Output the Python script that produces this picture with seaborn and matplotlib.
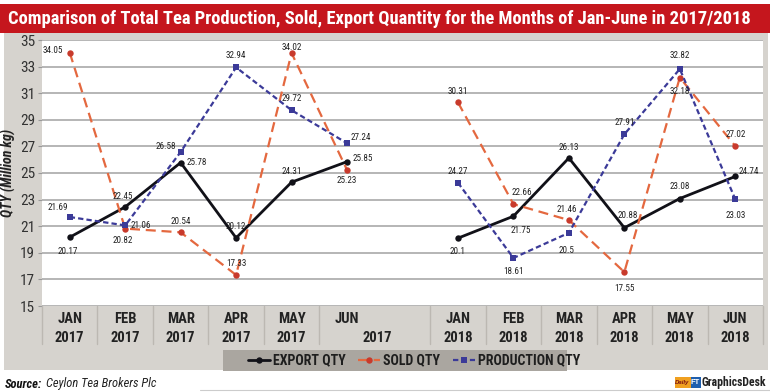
import numpy as np
import pandas as pd
import matplotlib
matplotlib.use("Agg")
import matplotlib.pyplot as plt
import seaborn as sns
from matplotlib.patches import Rectangle
from matplotlib.lines import Line2D
import matplotlib.transforms as mtransforms
from matplotlib import font_manager

# ---------------- data ----------------
months = ["JAN", "FEB", "MAR", "APR", "MAY", "JUN"]
years = ["2017", "2018"]
series_names = ["EXPORT QTY", "SOLD QTY", "PRODUCTION QTY"]

export_2017 = [20.17, 22.45, 25.78, 20.12, 24.31, 25.85]
sold_2017 = [34.05, 20.82, 20.54, 17.33, 34.02, 25.23]
production_2017 = [21.69, 21.06, 26.58, 32.94, 29.72, 27.24]

export_2018 = [20.1, 21.75, 26.13, 20.88, 23.08, 24.74]
sold_2018 = [30.31, 22.66, 21.46, 17.55, 32.18, 27.02]
production_2018 = [24.27, 18.61, 20.5, 27.91, 32.82, 23.03]

y_ticks = list(range(15, 36, 2))

title = "Comparison of Total Tea Production, Sold, Export Quantity for the Months of Jan-June in 2017/2018"
y_label = "QTY (Million kg)"
source_bold = "Source:"
source_text = "Ceylon Tea Brokers Plc"

# ---------------- build long table ----------------
values = {
    ("2017", "EXPORT QTY"): export_2017,
    ("2017", "SOLD QTY"): sold_2017,
    ("2017", "PRODUCTION QTY"): production_2017,
    ("2018", "EXPORT QTY"): export_2018,
    ("2018", "SOLD QTY"): sold_2018,
    ("2018", "PRODUCTION QTY"): production_2018,
}
year_offset = {"2017": 0, "2018": len(months) + 1}
rows = []
for (yr, s), vals in values.items():
    for i, v in enumerate(vals):
        rows.append({"pos": i + year_offset[yr], "value": v, "series": s, "year": yr})
df = pd.DataFrame(rows)

# ---------------- fonts ----------------
available = {f.name for f in font_manager.fontManager.ttflist}
cands = ["Liberation Sans Narrow", "DejaVu Sans Condensed", "Roboto Condensed",
         "Open Sans Condensed", "Liberation Sans", "DejaVu Sans"]
narrow_name = next(c for c in cands if c in available)
NARROW = [narrow_name, "DejaVu Sans"]

sns.set_theme(style="white")
plt.rcParams["font.family"] = ["Liberation Sans", "DejaVu Sans"]

palette = {"EXPORT QTY": "#111118", "SOLD QTY": "#e4683f", "PRODUCTION QTY": "#3b3a98"}
marker_col = {"EXPORT QTY": "#111118", "SOLD QTY": "#c83a2c", "PRODUCTION QTY": "#3b3a98"}
dashes = {"EXPORT QTY": "", "SOLD QTY": (4.5, 2.6), "PRODUCTION QTY": (2.4, 1.4)}
markers = {"EXPORT QTY": "o", "SOLD QTY": "o", "PRODUCTION QTY": "s"}
widths = {"EXPORT QTY": 2.0, "SOLD QTY": 1.6, "PRODUCTION QTY": 1.6}

W, H = 770, 392
fig = plt.figure(figsize=(W / 100, H / 100), dpi=100)
fig.patch.set_facecolor("white")
renderer = fig.canvas.get_renderer()

def fx(px):
    return px / W

def fy(py):
    return 1 - py / H

def fit_width(txt, max_px, max_size):
    size = max_size
    txt.set_fontsize(size)
    w = txt.get_window_extent(renderer=renderer).width
    if w > max_px:
        txt.set_fontsize(size * max_px / w)

# red title bar and grey panel
fig.patches.append(Rectangle((0, fy(33)), 1, fy(4) - fy(33), transform=fig.transFigure,
                             facecolor="#c5161d", edgecolor="none", zorder=-3))
fig.patches.append(Rectangle((fx(4), fy(370)), fx(764), fy(33) - fy(370), transform=fig.transFigure,
                             facecolor="#d6d3ce", edgecolor="none", zorder=-3))
ttl = fig.text(fx(8), fy(19), title, color="white", fontweight="bold",
               family=NARROW, va="center", ha="left")
fit_width(ttl, 745, 14.5)

ax = fig.add_axes([fx(42), fy(306), fx(763) - fx(42), fy(40) - fy(306)])
ax.set_facecolor("white")

sns.lineplot(data=df, x="pos", y="value", hue="series", style="series", units="year",
             estimator=None, hue_order=series_names, style_order=series_names,
             palette=palette, dashes=dashes, markers=markers, markersize=4.6,
             linewidth=1.7, markeredgewidth=0, ax=ax, legend=True, zorder=3)

hex_to_series = {matplotlib.colors.to_hex(c): s for s, c in palette.items()}
for ln in ax.get_lines():
    lab = hex_to_series.get(matplotlib.colors.to_hex(ln.get_color()))
    if lab:
        ln.set_markerfacecolor(marker_col[lab])
        ln.set_markeredgecolor(marker_col[lab])
        ln.set_linewidth(widths[lab])

handles, labels = ax.get_legend_handles_labels()
ax.get_legend().remove()

ax.set_xlim(-0.5, 2 * len(months) + 0.5)
ax.set_ylim(15, 35)
ax.set_yticks(y_ticks)
ax.set_yticklabels([str(t) for t in y_ticks], family=NARROW, fontsize=11, color="#333333")
ax.tick_params(axis="y", length=3, width=0.8, color="#999999", pad=2, left=True)
ax.set_xticks([])
ax.set_xlabel("")
ax.set_ylabel(y_label, family=NARROW, fontsize=10, fontweight="bold", style="italic",
              color="#222222")
ax.yaxis.set_label_coords(-0.036, 0.5)
for t in y_ticks:
    ax.axhline(t, color="#b5b5b5", linewidth=1.4, zorder=1)
for sp in ax.spines.values():
    sp.set_visible(False)

# data labels
offsets = {
    ("2017", "EXPORT QTY"): [(-2, -14), (-2, 10), (16, 0), (0, 11), (0, 11), (16, 3)],
    ("2017", "SOLD QTY"): [(-17, 2), (-2, -12), (0, 11), (0, 12), (0, 6), (0, -11)],
    ("2017", "PRODUCTION QTY"): [(-12, 10), (16, 0), (-15, 5), (0, 12), (0, 12), (14, 6)],
    ("2018", "EXPORT QTY"): [(0, -13), (7, -14), (0, 10), (3, 12), (0, 12), (13, 5)],
    ("2018", "SOLD QTY"): [(0, 11), (8, 12), (-2, 11), (0, -16), (0, -14), (0, 12)],
    ("2018", "PRODUCTION QTY"): [(0, 11), (0, -14), (-2, -18), (0, 12), (0, 13), (0, -16)],
}
for (yr, s), vals in values.items():
    for i, v in enumerate(vals):
        dx, dy = offsets[(yr, s)][i]
        ax.annotate(f"{v:g}", (i + year_offset[yr], v), xytext=(dx, dy),
                    textcoords="offset pixels", ha="center", va="center",
                    fontsize=6.6, color="#222222", zorder=5, family=NARROW)

# category axis labels below plot
trans = mtransforms.blended_transform_factory(ax.transData, fig.transFigure)
lab_kw = dict(transform=trans, ha="center", va="center", fontsize=10.5,
              fontweight="bold", family=NARROW, color="#222222")
for yr in years:
    for i, m in enumerate(months):
        p = i + year_offset[yr]
        ax.text(p, fy(319), m, **lab_kw)
        if yr == "2017" and i == len(months) - 1:
            ax.text(p + 0.55, fy(338), yr, **lab_kw)
        else:
            ax.text(p, fy(338), yr, **lab_kw)
bounds = [b - 0.5 for b in range(0, 2 * len(months) + 2) if b != len(months)]
for b in bounds:
    ax.add_line(Line2D([b, b], [fy(306), fy(344)], transform=trans, color="#bcb8b2",
                       linewidth=1.0, clip_on=False))

# legend
fig.patches.append(Rectangle((fx(223), fy(371)), fx(567) - fx(223), fy(350) - fy(371),
                             transform=fig.transFigure, facecolor="#aaa6a0",
                             edgecolor="none", zorder=-2))
leg = fig.legend(handles, labels, loc="center", bbox_to_anchor=(fx(414), fy(360.5)),
                 ncol=3, frameon=False, handlelength=1.6, handletextpad=0.2,
                 columnspacing=0.9, prop={"family": NARROW, "weight": "bold", "size": 10})
for t in leg.get_texts():
    t.set_color("#1e1e1e")

# source and credit
src1 = fig.text(fx(5), fy(384), source_bold, fontsize=9, fontweight="bold", style="italic",
                family=NARROW, color="#111111", va="center", ha="left")
w1 = src1.get_window_extent(renderer=renderer).width
fig.text(fx(5 + w1 + 4), fy(384), source_text, fontsize=9, style="italic",
         family=NARROW, color="#222222", va="center", ha="left")
fig.add_artist(Line2D([fx(200), fx(770)], [fy(390), fy(390)], transform=fig.transFigure,
                      color="#cccccc", linewidth=0.8))
gd = fig.text(fx(766), fy(382.5), "GraphicsDesk", fontsize=8.5, fontweight="bold", family=NARROW,
              color="#222222", ha="right", va="center")
gw = gd.get_window_extent(renderer=renderer).width
x_ft = 766 - gw - 11
fig.patches.append(Rectangle((fx(x_ft), fy(388)), fx(10), fy(377) - fy(388), transform=fig.transFigure,
                             facecolor="#1f5fae", edgecolor="none"))
fig.text(fx(x_ft + 5), fy(382.5), "FT", fontsize=5.5, fontweight="bold", color="white",
         ha="center", va="center")
fig.patches.append(Rectangle((fx(x_ft - 16), fy(388)), fx(16), fy(377) - fy(388), transform=fig.transFigure,
                             facecolor="#f0a020", edgecolor="none"))
fig.text(fx(x_ft - 8), fy(382.5), "Daily", fontsize=4.3, style="italic", fontweight="bold",
         color="#7a1010", ha="center", va="center")

fig.savefig("out.png", dpi=100, facecolor="white")
